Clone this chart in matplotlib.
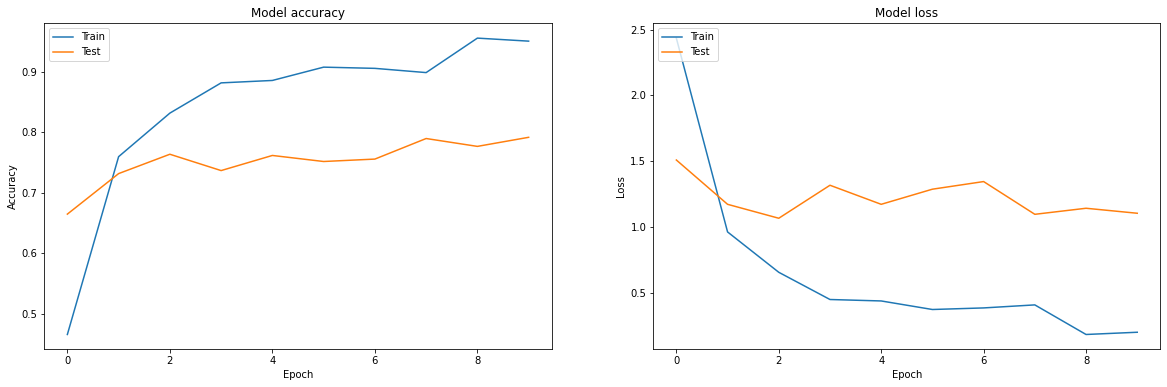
import matplotlib
matplotlib.use("Agg")
import matplotlib.pyplot as plt

epochs = list(range(10))
train_acc = [0.466, 0.760, 0.832, 0.882, 0.886, 0.908, 0.906, 0.899, 0.956, 0.951]
test_acc = [0.665, 0.732, 0.764, 0.737, 0.762, 0.752, 0.756, 0.790, 0.777, 0.792]
train_loss = [2.435, 0.961, 0.654, 0.447, 0.436, 0.371, 0.383, 0.406, 0.181, 0.198]
test_loss = [1.508, 1.171, 1.065, 1.316, 1.171, 1.286, 1.344, 1.095, 1.141, 1.103]
legend_labels = ["Train", "Test"]

W, H = 1167, 387
dpi = 72
fig = plt.figure(figsize=(W / dpi, H / dpi), dpi=dpi)

ax1 = fig.add_axes([44.3 / W, 37.7 / H, 507.4 / W, 326 / H])
ax2 = fig.add_axes([653.3 / W, 37.7 / H, 507.0 / W, 326 / H])

ax1.plot(epochs, train_acc)
ax1.plot(epochs, test_acc)
ax1.set_title("Model accuracy")
ax1.set_ylabel("Accuracy")
ax1.set_xlabel("Epoch")
ax1.legend(legend_labels, loc="upper left")

ax2.plot(epochs, train_loss)
ax2.plot(epochs, test_loss)
ax2.set_title("Model loss")
ax2.set_ylabel("Loss")
ax2.set_xlabel("Epoch")
ax2.legend(legend_labels, loc="upper left")

fig.savefig("out.png", dpi=dpi)
